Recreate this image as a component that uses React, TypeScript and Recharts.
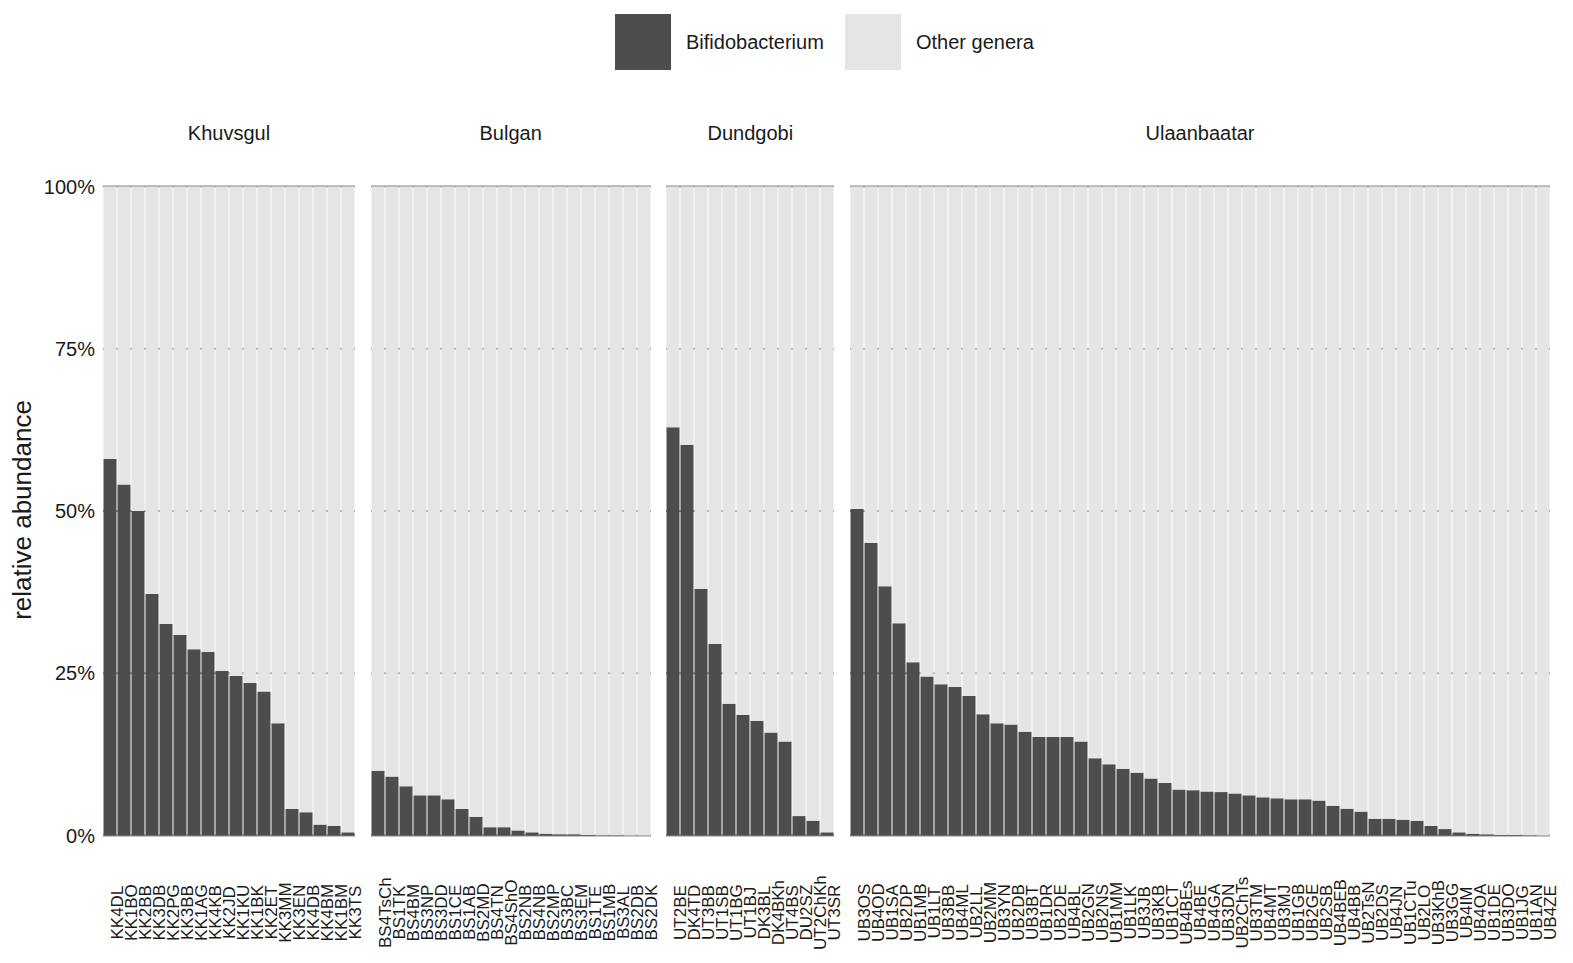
import React from 'react';
import { BarChart, Bar, XAxis, YAxis, CartesianGrid } from 'recharts';

const khuvsgulSamples = ['KK4DL', 'KK1BO', 'KK2BB', 'KK3DB', 'KK2PG', 'KK3BB', 'KK1AG', 'KK4KB', 'KK2JD', 'KK1KU', 'KK1BK', 'KK2ET', 'KK3MM', 'KK3EN', 'KK4DB', 'KK4BM', 'KK1BM', 'KK3TS'];
const khuvsgulBifido = [58.0, 54.1, 50.0, 37.2, 32.6, 30.9, 28.7, 28.3, 25.4, 24.6, 23.5, 22.2, 17.3, 4.1, 3.6, 1.7, 1.5, 0.5];

const bulganSamples = ['BS4TsCh', 'BS1TK', 'BS4BM', 'BS3NP', 'BS3DD', 'BS1CE', 'BS1AB', 'BS2MD', 'BS4TN', 'BS4ShO', 'BS2NB', 'BS4NB', 'BS2MP', 'BS3BC', 'BS3EM', 'BS1TE', 'BS1MB', 'BS3AL', 'BS2DB', 'BS2DK'];
const bulganBifido = [10.0, 9.1, 7.6, 6.2, 6.2, 5.6, 4.1, 2.9, 1.3, 1.3, 0.8, 0.5, 0.3, 0.2, 0.2, 0.1, 0.05, 0.05, 0.02, 0.01];

const dundgobiSamples = ['UT2BE', 'DK4TD', 'UT3BB', 'UT1SB', 'UT1BG', 'UT1BJ', 'DK3BL', 'DK4BKh', 'UT4BS', 'DU2SZ', 'UT2ChKh', 'UT3SR'];
const dundgobiBifido = [62.9, 60.2, 38.0, 29.5, 20.3, 18.6, 17.7, 15.9, 14.5, 3.0, 2.3, 0.5];

const ulaanbaatarSamples = ['UB3OS', 'UB4OD', 'UB1SA', 'UB2DP', 'UB1MB', 'UB1LT', 'UB3BB', 'UB4ML', 'UB2LL', 'UB2MM', 'UB3YN', 'UB2DB', 'UB3BT', 'UB1DR', 'UB2DE', 'UB4BL', 'UB2GN', 'UB2NS', 'UB1MM', 'UB1LK', 'UB3JB', 'UB3KB', 'UB1CT', 'UB4BEs', 'UB4BE', 'UB4GA', 'UB3DN', 'UB2ChTs', 'UB3TM', 'UB4MT', 'UB3MJ', 'UB1GB', 'UB2GE', 'UB2SB', 'UB4BEB', 'UB4BB', 'UB2TsN', 'UB2DS', 'UB4JN', 'UB1CTu', 'UB2LO', 'UB3KhB', 'UB3GG', 'UB4IM', 'UB4OA', 'UB1DE', 'UB3DO', 'UB1JG', 'UB1AN', 'UB4ZE'];
const ulaanbaatarBifido = [50.3, 45.1, 38.4, 32.7, 26.7, 24.5, 23.3, 22.9, 21.5, 18.7, 17.3, 17.1, 16.0, 15.2, 15.2, 15.2, 14.5, 11.9, 11.0, 10.3, 9.7, 8.8, 8.1, 7.1, 7.0, 6.8, 6.7, 6.5, 6.2, 5.9, 5.75, 5.6, 5.6, 5.4, 4.6, 4.15, 3.7, 2.6, 2.6, 2.45, 2.3, 1.5, 1.0, 0.5, 0.3, 0.2, 0.1, 0.1, 0.05, 0.02];

const regions = ['Khuvsgul', 'Bulgan', 'Dundgobi', 'Ulaanbaatar'];
const yTicks = [0, 25, 50, 75, 100];

const DARK = '#4d4d4d';
const LIGHT = '#e5e5e5';
const FONT = '"Liberation Sans", Arial, Helvetica, sans-serif';
const TEXT = '#1a1a1a';

const BAR_W = 14;
const PLOT_TOP = 186.4;
const PLOT_BOTTOM = 835.6;
const H = 963;
const AXIS_W = 103;
const PAD_R = 16; // room for the last rotated label
const panelX = [103, 370.67, 666.33, 850];

const toRows = (samples: string[], values: number[]) =>
  samples.map((s, i) => ({ sample: s, bifido: values[i], other: 100 - values[i] }));

const panels = [
  toRows(khuvsgulSamples, khuvsgulBifido),
  toRows(bulganSamples, bulganBifido),
  toRows(dundgobiSamples, dundgobiBifido),
  toRows(ulaanbaatarSamples, ulaanbaatarBifido),
];

const SampleTick = (props: any) => {
  const { x, y, payload } = props;
  return (
    <text
      x={0}
      y={0}
      dy="0.74em"
      transform={`translate(${x},${y + 77}) rotate(-90)`}
      textAnchor="middle"
      fontSize={17}
      fontFamily={FONT}
      fill={TEXT}
    >
      {payload.value}
    </text>
  );
};

function Panel({ idx }: { idx: number }) {
  const data = panels[idx];
  const first = idx === 0;
  const plotW = data.length * BAR_W;
  const left = first ? panelX[0] - AXIS_W : panelX[idx];
  const width = (first ? plotW + AXIS_W : plotW) + PAD_R;
  return (
    <div style={{ position: 'absolute', left, top: 0 }}>
      <BarChart
        width={width}
        height={H}
        data={data}
        margin={{ top: PLOT_TOP, right: PAD_R, bottom: 0, left: 0 }}
        barCategoryGap={0.5}
      >
        <CartesianGrid vertical={false} stroke="#8a8a8a" strokeWidth={2} />
        <XAxis
          dataKey="sample"
          interval={0}
          tickLine={false}
          axisLine={false}
          tickSize={0}
          tickMargin={0}
          height={H - PLOT_BOTTOM}
          tick={SampleTick}
        />
        <YAxis
          hide={!first}
          width={AXIS_W}
          domain={[0, 100]}
          ticks={yTicks}
          tickFormatter={(v: number) => `${v}%`}
          tickLine={false}
          axisLine={false}
          tickSize={0}
          tickMargin={8}
          tick={{ fontSize: 20, fill: TEXT, fontFamily: FONT }}
        />
        <Bar dataKey="bifido" stackId="a" fill={DARK} isAnimationActive={false} />
        <Bar dataKey="other" stackId="a" fill={LIGHT} isAnimationActive={false} />
      </BarChart>
      <div
        style={{
          position: 'absolute',
          left: first ? AXIS_W : 0,
          top: 121,
          width: plotW,
          textAlign: 'center',
          fontFamily: FONT,
          fontSize: 20,
          lineHeight: '24px',
          color: TEXT,
        }}
      >
        {regions[idx]}
      </div>
    </div>
  );
}

const legendItems = [
  { label: 'Bifidobacterium', color: DARK, x: 615 },
  { label: 'Other genera', color: LIGHT, x: 845 },
];

export default function App() {
  return (
    <div
      style={{
        position: 'absolute',
        left: 0,
        top: 0,
        width: 1573,
        height: H,
        background: '#fff',
        overflow: 'hidden',
      }}
    >
      {legendItems.map((item) => (
        <div key={item.label} style={{ position: 'absolute', left: item.x, top: 14 }}>
          <div style={{ width: 56, height: 56, background: item.color }} />
          <div
            style={{
              position: 'absolute',
              left: 71,
              top: 16,
              whiteSpace: 'nowrap',
              fontFamily: FONT,
              fontSize: 20,
              lineHeight: '24px',
              color: TEXT,
            }}
          >
            {item.label}
          </div>
        </div>
      ))}
      <svg width={60} height={H} style={{ position: 'absolute', left: 0, top: 0 }}>
        <text
          transform="translate(22,510) rotate(-90)"
          textAnchor="middle"
          dominantBaseline="central"
          fontSize={26}
          fontFamily={FONT}
          fill={TEXT}
        >
          relative abundance
        </text>
      </svg>
      {panels.map((_, i) => (
        <Panel key={regions[i]} idx={i} />
      ))}
    </div>
  );
}
